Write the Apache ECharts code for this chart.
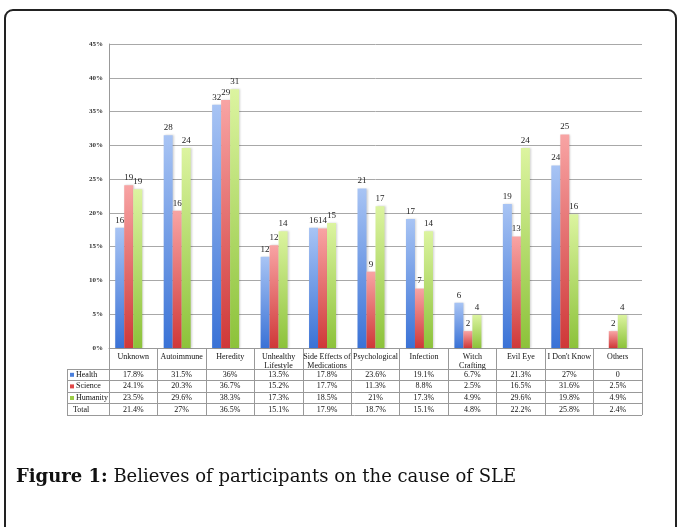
<!DOCTYPE html>
<html>
<head>
  <meta charset="utf-8">
  <title>Believes of participants on the cause of SLE</title>
  <script src="https://cdn.jsdelivr.net/npm/echarts@6/dist/echarts.min.js"></script>
  <style>
    html, body { margin: 0; padding: 0; background: #fff; }
    #main { width: 678px; height: 527px; }
  </style>
</head>
<body>
<div id="main"></div>
<script>
// categories (x axis / table header)
var categories = ['Unknown', 'Autoimmune', 'Heredity', 'Unhealthy\nLifestyle', 'Side Effects of\nMedications',
  'Psychological', 'Infection', 'Witch\nCrafting', 'Evil Eye', "I Don't Know", 'Others'];

// bar heights (%)
var health   = [17.8, 31.5, 36, 13.5, 17.8, 23.6, 19.1, 6.7, 21.3, 27, 0];
var science  = [24.1, 20.3, 36.7, 15.2, 17.7, 11.3, 8.8, 2.5, 16.5, 31.6, 2.5];
var humanity = [23.5, 29.6, 38.3, 17.3, 18.5, 21, 17.3, 4.9, 29.6, 19.8, 4.9];
var total    = [21.4, 27, 36.5, 15.1, 17.9, 18.7, 15.1, 4.8, 22.2, 25.8, 2.4];

// counts shown on top of the bars
var healthN   = [16, 28, 32, 12, 16, 21, 17, 6, 19, 24, null];
var scienceN  = [19, 16, 29, 12, 14, 9, 7, 2, 13, 25, 2];
var humanityN = [19, 24, 31, 14, 15, 17, 14, 4, 24, 16, 4];

var serif = '"Liberation Serif", "DejaVu Serif", serif';
var capFont = '"DejaVu Serif", serif';

function grad(top, bottom) {
  return new echarts.graphic.LinearGradient(0, 0, 0, 1, [
    { offset: 0, color: top }, { offset: 1, color: bottom }
  ]);
}

function makeSeries(name, vals, counts, c1, c2) {
  return {
    name: name,
    type: 'bar',
    barWidth: 9,
    barGap: '0%',
    data: vals.map(function (v, i) {
      return { value: v, count: counts[i] };
    }),
    itemStyle: { color: grad(c1, c2), shadowColor: 'rgba(0,0,0,0.18)', shadowBlur: 2, shadowOffsetX: 1 },
    label: {
      show: true,
      position: 'top',
      distance: 3,
      fontFamily: serif,
      fontSize: 9,
      color: '#222',
      formatter: function (p) { return p.data.count == null ? '' : String(p.data.count); }
    }
  };
}

var myChart = echarts.init(document.getElementById('main'));

var option = {
  animation: false,
  backgroundColor: '#fff',
  grid: { left: 109, right: 36, top: 44, bottom: 179 },
  xAxis: {
    type: 'category',
    data: categories,
    axisLine: { show: true, lineStyle: { color: '#999', width: 1 } },
    axisTick: { show: true, length: 67, lineStyle: { color: '#999' } },
    axisLabel: {
      interval: 0,
      margin: 4,
      fontFamily: serif,
      fontSize: 8,
      lineHeight: 9,
      color: '#111',
      verticalAlign: 'top'
    }
  },
  yAxis: {
    type: 'value',
    min: 0,
    max: 45,
    interval: 5,
    axisLine: { show: true, lineStyle: { color: '#999' } },
    axisTick: { show: false },
    splitLine: { lineStyle: { color: '#a8a8a8', width: 1 } },
    axisLabel: {
      formatter: '{value}%',
      margin: 6,
      fontFamily: serif,
      fontSize: 7,
      fontWeight: 'bold',
      color: '#333'
    }
  },
  series: [
    makeSeries('Health', health, healthN, '#a8c4f4', '#3a72d6'),
    makeSeries('Science', science, scienceN, '#f8a4a4', '#cf3838'),
    makeSeries('Humanity', humanity, humanityN, '#dcf4a0', '#8cc23a'),
    // empty slot: the original groups sit a little left of the column centre
    { name: 'spacer', type: 'bar', barWidth: 9, barGap: '0%', silent: true, data: categories.map(function () { return '-'; }) }
  ]
};

myChart.setOption(option);

// data table below the plot + frame + caption
function fmt(v) { return v === 0 ? '0' : v + '%'; }

var rows = [
  { name: 'Health', color: '#4a7fdc', vals: health },
  { name: 'Science', color: '#e04848', vals: science },
  { name: 'Humanity', color: '#9ccc48', vals: humanity },
  { name: 'Total', color: null, vals: total }
];

var c0 = myChart.convertToPixel({ xAxisIndex: 0 }, 0);
var c1 = myChart.convertToPixel({ xAxisIndex: 0 }, 1);
var slot = c1 - c0;
var leftEdge = c0 - slot / 2;
var rightEdge = leftEdge + slot * categories.length;
var y0 = myChart.convertToPixel({ yAxisIndex: 0 }, 0);
var headerBottom = y0 + 20.5;
var rowH = 11.6;
var tableLeft = 67;

var els = [];
var lineStyle = { stroke: '#999', lineWidth: 1 };
// horizontal row lines
for (var r = 0; r <= rows.length; r++) {
  var yy = Math.round(headerBottom + r * rowH) + 0.5;
  els.push({ type: 'line', shape: { x1: tableLeft, y1: yy, x2: rightEdge, y2: yy }, style: lineStyle, silent: true });
}
// left border of row header column
els.push({ type: 'line', shape: { x1: tableLeft + 0.5, y1: Math.round(headerBottom) + 0.5, x2: tableLeft + 0.5, y2: Math.round(headerBottom + rows.length * rowH) + 0.5 }, style: lineStyle });

rows.forEach(function (row, r) {
  var cy = headerBottom + r * rowH + rowH / 2 + 0.5;
  if (row.color) {
    els.push({ type: 'rect', shape: { x: tableLeft + 3, y: cy - 2, width: 4, height: 4 }, style: { fill: row.color } });
  }
  els.push({
    type: 'text', x: tableLeft + (row.color ? 9 : 6), y: cy,
    style: { text: row.name, fontFamily: serif, fontSize: 8, fill: '#111', verticalAlign: 'middle' }
  });
  row.vals.forEach(function (v, i) {
    var cx = myChart.convertToPixel({ xAxisIndex: 0 }, i);
    els.push({
      type: 'text', x: cx, y: cy,
      style: { text: fmt(v), fontFamily: serif, fontSize: 8, fill: '#111', align: 'center', verticalAlign: 'middle' }
    });
  });
});

// outer frame
els.push({
  type: 'rect', shape: { x: 5, y: 10, width: 671, height: 540, r: 8 },
  style: { fill: null, stroke: '#222', lineWidth: 2 }, silent: true
});

// caption
els.push({
  type: 'text', x: 16, y: 477,
  style: {
    text: '{b|Figure 1:} Believes of participants on the cause of SLE',
    rich: {
      b: { fontFamily: capFont, fontSize: 18, fontWeight: 'bold', fill: '#111' }
    },
    fontFamily: capFont, fontSize: 18, fill: '#111', verticalAlign: 'middle'
  }
});

myChart.setOption({ graphic: { elements: els } });
</script>
</body>
</html>
